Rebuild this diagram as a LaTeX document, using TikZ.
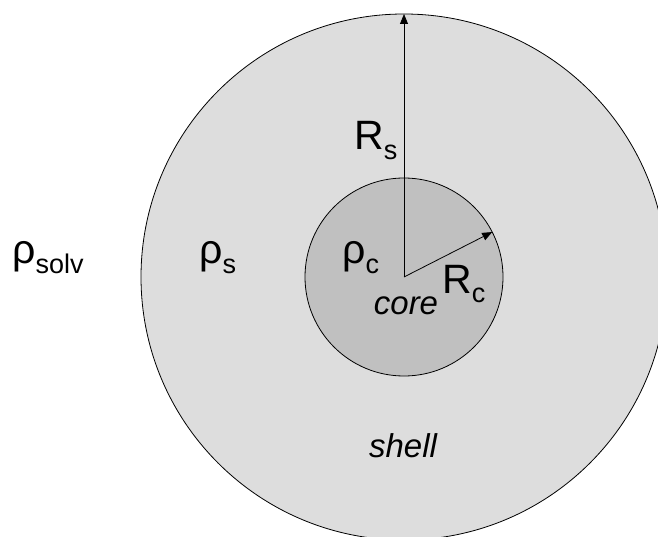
\documentclass[tikz,border=0pt]{standalone}
\usepackage{fontspec}
\setmainfont{Liberation Sans}
\usetikzlibrary{arrows.meta,calc}
\definecolor{shellgray}{HTML}{DDDDDD}
\definecolor{coregray}{HTML}{C0C0C0}
\newcommand{\bigsz}{\fontsize{41}{44}\selectfont}
\newcommand{\subsz}[1]{\raisebox{-9.5pt}{\fontsize{27}{30}\selectfont #1}}

\begin{document}
\begin{tikzpicture}[x=1pt,y=1pt,
    lbl/.style={inner sep=0pt, anchor=base west, font=\bigsz},
    word/.style={inner sep=0pt, anchor=base, font=\fontsize{33}{36}\selectfont\itshape},
    radarrow/.style={-{Triangle[length=10pt,width=8pt]}, line width=0.8pt}]
    \clip (0,0) rectangle (658,536);
    \coordinate (O) at (404,259);
    \coordinate (Rs_tip) at ($(O)+(90:263)$);
    \coordinate (Rc_tip) at ($(O)+(27:99)$);
    \draw[line width=0.8pt, fill=shellgray] (O) circle[radius=263pt];
    \draw[line width=0.8pt, fill=coregray] (O) circle[radius=99pt];
    \draw[radarrow] (O) -- (Rs_tip);
    \draw[radarrow] (O) -- (Rc_tip);
    \node[lbl] (Rs) at (354,386) {R\subsz{s}};
    \node[lbl] (Rc) at (442,243) {R\subsz{c}};
    \node[lbl] (rhosolv) at (12,272) {ρ\subsz{solv}};
    \node[lbl] (rhos) at (199,272) {ρ\subsz{s}};
    \node[lbl] (rhoc) at (342,272) {ρ\subsz{c}};
    \node[word] (core) at (406,222) {core};
    \node[word] (shell) at (403,79) {shell};
\end{tikzpicture}
\end{document}
